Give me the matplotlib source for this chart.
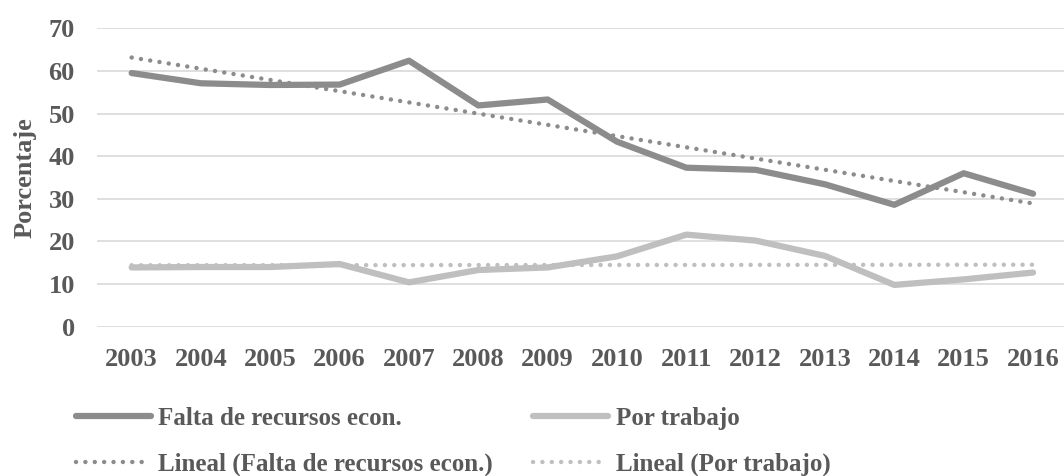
import numpy as np
import matplotlib.pyplot as plt
from matplotlib.lines import Line2D

years = ['2003', '2004', '2005', '2006', '2007', '2008', '2009',
         '2010', '2011', '2012', '2013', '2014', '2015', '2016']
falta = [59.5, 57.1, 56.7, 56.8, 62.4, 51.9, 53.3, 43.4, 37.3, 36.8, 33.4, 28.6, 36.0, 31.2]
trabajo = [13.9, 14.0, 14.0, 14.7, 10.4, 13.3, 13.9, 16.5, 21.6, 20.2, 16.6, 9.8, 11.1, 12.7]

c_falta = '#8c8c8c'
c_trab = '#bfbfbf'
txt = '#595959'
dots = (0, (0.01, 2.1))

plt.rcParams['font.family'] = ['Liberation Serif', 'DejaVu Serif']
plt.rcParams['font.weight'] = 'bold'

fig = plt.figure(figsize=(10.64, 4.76), dpi=100)
ax = fig.add_axes([97/1064, 149.3/476, 970.7/1064, 298.4/476])

x = np.arange(len(years))
ax.plot(x, falta, color=c_falta, lw=4.5, solid_capstyle='round', solid_joinstyle='round', zorder=3)
ax.plot(x, trabajo, color=c_trab, lw=4.5, solid_capstyle='round', solid_joinstyle='round', zorder=3)

# lineas de tendencia (lineal)
p1 = np.polyfit(x, falta, 1)
p2 = np.polyfit(x, trabajo, 1)
ax.plot(x, np.polyval(p1, x), color=c_falta, lw=3.2, ls=dots, dash_capstyle='round', zorder=4)
ax.plot(x, np.polyval(p2, x), color=c_trab, lw=3.2, ls=dots, dash_capstyle='round', zorder=2)

ax.set_xlim(-0.5, 13.5)
ax.set_ylim(0, 70)
ax.set_yticks(range(0, 71, 10))
ax.set_xticks(x)
ax.set_xticklabels(years)
ax.grid(axis='y', color='#d9d9d9', lw=1.2)
ax.set_axisbelow(True)
for s in ax.spines.values():
    s.set_visible(False)
ax.tick_params(length=0, labelsize=19, labelcolor=txt)
ax.tick_params(axis='y', pad=16)
ax.tick_params(axis='x', pad=15)
ax.set_ylabel('Porcentaje', fontsize=19, color=txt, fontweight='bold')
ax.yaxis.set_label_coords(-60/970.7, 0.5)

handles = [
    Line2D([], [], color=c_falta, lw=4.5, solid_capstyle='round'),
    Line2D([], [], color=c_falta, lw=3.2, ls=dots, dash_capstyle='round'),
    Line2D([], [], color=c_trab, lw=4.5, solid_capstyle='round'),
    Line2D([], [], color=c_trab, lw=3.2, ls=dots, dash_capstyle='round'),
]
labels = ['Falta de recursos econ.', 'Lineal (Falta de recursos econ.)',
          'Por trabajo', 'Lineal (Por trabajo)']
leg = fig.legend(handles, labels, ncol=2, loc='upper left',
                 bbox_to_anchor=(76/1064, 1 - 407/476), frameon=False,
                 prop={'size': 18, 'weight': 'bold'}, handlelength=3.0, handletextpad=0.3,
                 columnspacing=1.6, labelspacing=0.92, borderpad=0, borderaxespad=0)
for t in leg.get_texts():
    t.set_color(txt)

fig.savefig('out.png', dpi=100)
